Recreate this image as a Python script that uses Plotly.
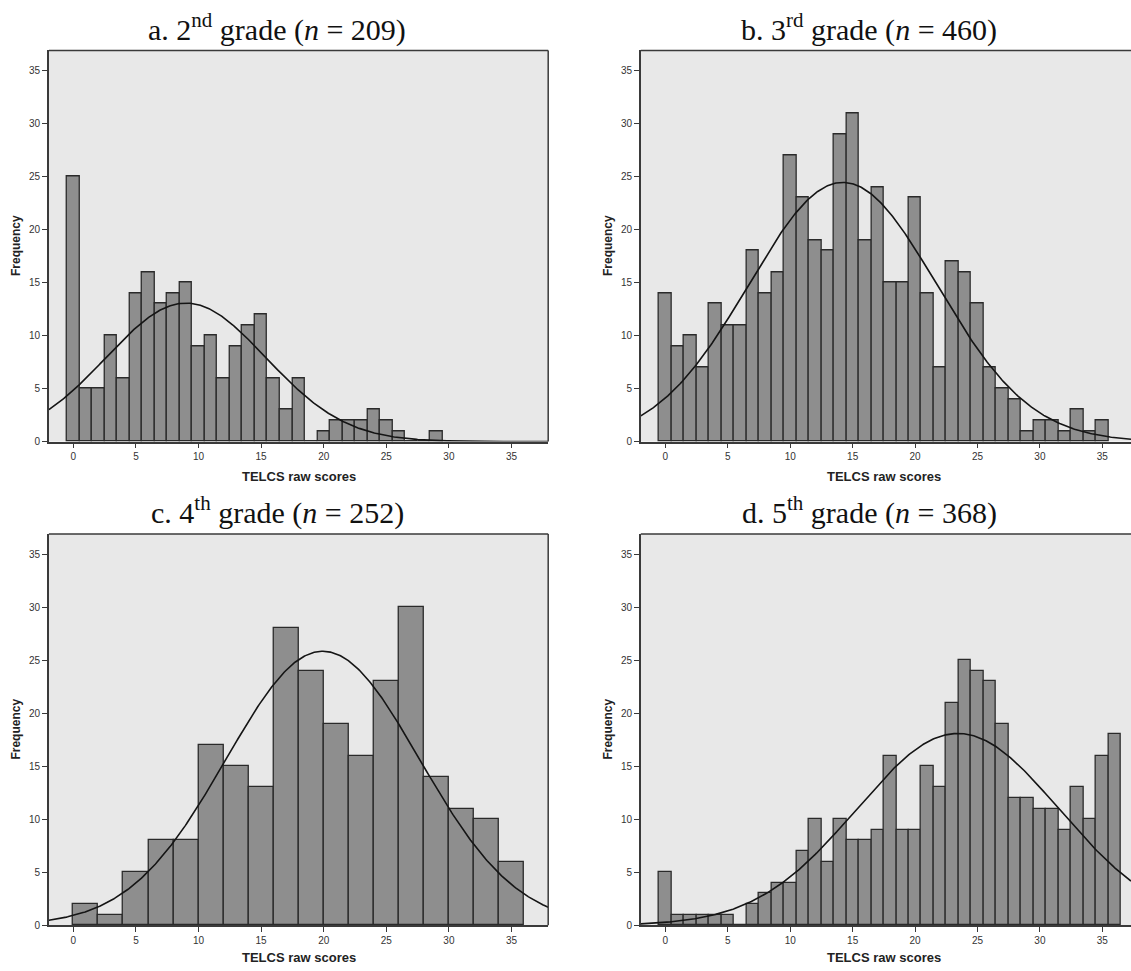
import numpy as np
import plotly.graph_objects as go

# ---------------- data ----------------
titles = [
    "a. 2<sup>nd</sup> grade (<i>n</i> = 209)",
    "b. 3<sup>rd</sup> grade (<i>n</i> = 460)",
    "c. 4<sup>th</sup> grade (<i>n</i> = 252)",
    "d. 5<sup>th</sup> grade (<i>n</i> = 368)",
]

# 2nd grade: scores 0..29, bin width 1
scores_a = list(range(0, 30))
freq_a = [25, 5, 5, 10, 6, 14, 16, 13, 14, 15,
          9, 10, 6, 9, 11, 12, 6, 3, 6, 0,
          1, 2, 2, 2, 3, 2, 1, 0, 0, 1]

# 3rd grade: scores 0..35, bin width 1
scores_b = list(range(0, 36))
freq_b = [14, 9, 10, 7, 13, 11, 11, 18, 14, 16,
          27, 23, 19, 18, 29, 31, 19, 24, 15, 15,
          23, 14, 7, 17, 16, 13, 7, 5, 4, 1,
          2, 2, 1, 3, 1, 2]

# 4th grade: bins of width 2 starting at 0,2,...,34
bin_left_c = list(range(0, 36, 2))
freq_c = [2, 1, 5, 8, 8, 17, 15, 13, 28, 24, 19, 16, 23, 30, 14, 11, 10, 6]

# 5th grade: scores 0..36, bin width 1
scores_d = list(range(0, 37))
freq_d = [5, 1, 1, 1, 1, 1, 0, 2, 3, 4,
          4, 7, 10, 6, 10, 8, 8, 9, 16, 9,
          9, 15, 13, 21, 25, 24, 23, 19, 12, 12,
          11, 11, 9, 13, 10, 16, 18]

x_tick_vals = [0, 5, 10, 15, 20, 25, 30, 35]
y_tick_vals = [0, 5, 10, 15, 20, 25, 30, 35]
x_label = "TELCS raw scores"
y_label = "Frequency"

# ---------------- styling ----------------
W, H = 1131, 971
BG = "#E8E8E8"
BAR = "#8E8E8E"
EDGE = "#2A2A2A"
AX = "#3A3A3A"
TICKFONT = dict(family="Liberation Sans, Arial, sans-serif", size=10, color="#333333")


def fit_curve(values, freqs, binwidth, xr):
    v = np.asarray(values, float)
    f = np.asarray(freqs, float)
    n = f.sum()
    m = (v * f).sum() / n
    sd = np.sqrt((f * (v - m) ** 2).sum() / (n - 1))
    xs = np.linspace(xr[0], xr[1], 400)
    ys = n * binwidth * np.exp(-0.5 * ((xs - m) / sd) ** 2) / (sd * np.sqrt(2 * np.pi))
    return xs, ys


# pixel geometry of the four plot areas (left, right, top, bottom)
panels = [
    dict(px=(48.9, 548.2), py=(50.7, 444.3), xr=(-1.95, 37.93)),
    dict(px=(640.8, 1131.0), py=(50.7, 444.3), xr=(-1.97, 37.3)),
    dict(px=(48.9, 548.2), py=(537.3, 931.0), xr=(-1.95, 37.93)),
    dict(px=(640.8, 1131.0), py=(537.3, 931.0), xr=(-1.97, 37.3)),
]
y_range = (0, 36.9)

fig = go.Figure()

series = [
    (scores_a, freq_a, 1, scores_a),
    (scores_b, freq_b, 1, scores_b),
    ([b + 1 for b in bin_left_c], freq_c, 2, [b + 0.5 for b in bin_left_c]),
    (scores_d, freq_d, 1, scores_d),
]

shapes = []
annotations = []
for i, (p, (xc, fr, bw, rep)) in enumerate(zip(panels, series)):
    k = "" if i == 0 else str(i + 1)
    xa, ya = "x" + k, "y" + k
    fig.add_trace(go.Bar(
        x=xc, y=fr, width=bw, xaxis=xa, yaxis=ya,
        marker=dict(color=BAR, line=dict(color=EDGE, width=1.3)),
        showlegend=False, hoverinfo="x+y",
    ))
    cx, cy = fit_curve(rep, fr, bw, p["xr"])
    fig.add_trace(go.Scatter(
        x=cx, y=cy, mode="lines", xaxis=xa, yaxis=ya,
        line=dict(color="#151515", width=1.6), showlegend=False, hoverinfo="skip",
    ))
    dom_x = [p["px"][0] / W, p["px"][1] / W]
    dom_y = [1 - p["py"][1] / H, 1 - p["py"][0] / H]
    common = dict(showline=True, linecolor=AX, linewidth=1.5, ticks="outside",
                  ticklen=5, tickwidth=1.3, tickcolor=AX, showgrid=False,
                  zeroline=False, tickfont=TICKFONT, fixedrange=True)
    fig.update_layout(**{
        "xaxis" + k: dict(domain=dom_x, range=list(p["xr"]), tickvals=x_tick_vals,
                          anchor=ya, **common),
        "yaxis" + k: dict(domain=dom_y, range=list(y_range), tickvals=y_tick_vals,
                          anchor=xa, **common),
    })
    # top frame line (and right one for the left panels)
    shapes.append(dict(type="line", xref=xa + " domain", yref=ya + " domain",
                       x0=0, x1=1, y0=1, y1=1, line=dict(color=AX, width=1.5)))
    if i in (0, 2):
        shapes.append(dict(type="line", xref=xa + " domain", yref=ya + " domain",
                           x0=1, x1=1, y0=0, y1=1, line=dict(color=AX, width=1.5)))

    # title
    tx = 277 if i in (0, 2) else 869
    ty = 28 if i < 2 else 514
    annotations.append(dict(text=titles[i], x=tx / W, y=1 - ty / H, xref="paper", yref="paper",
                            showarrow=False, xanchor="center", yanchor="middle",
                            font=dict(family="Liberation Serif, Times New Roman, serif",
                                      size=30, color="#111111")))
    # axis labels
    fx = 16 if i in (0, 2) else 608
    fy = (p["py"][0] + p["py"][1]) / 2
    annotations.append(dict(text="<b>" + y_label + "</b>", x=fx / W, y=1 - fy / H,
                            xref="paper", yref="paper", showarrow=False, textangle=-90,
                            xanchor="center", yanchor="middle",
                            font=dict(family="Liberation Sans, Arial, sans-serif", size=12,
                                      color="#222222")))
    lx = 299 if i in (0, 2) else 884
    ly = 479 if i < 2 else 963
    annotations.append(dict(text="<b>" + x_label + "</b>", x=lx / W, y=1 - ly / H,
                            xref="paper", yref="paper", showarrow=False,
                            xanchor="center", yanchor="middle",
                            font=dict(family="Liberation Sans, Arial, sans-serif", size=13,
                                      color="#222222")))

fig.update_layout(
    width=W, height=H, margin=dict(l=0, r=0, t=0, b=0),
    paper_bgcolor="white", plot_bgcolor=BG, bargap=0,
    shapes=shapes, annotations=annotations,
)

fig.write_html("out.html", config={"displayModeBar": False},
               post_script="document.body.style.margin='0px';document.body.style.overflow='hidden';")
